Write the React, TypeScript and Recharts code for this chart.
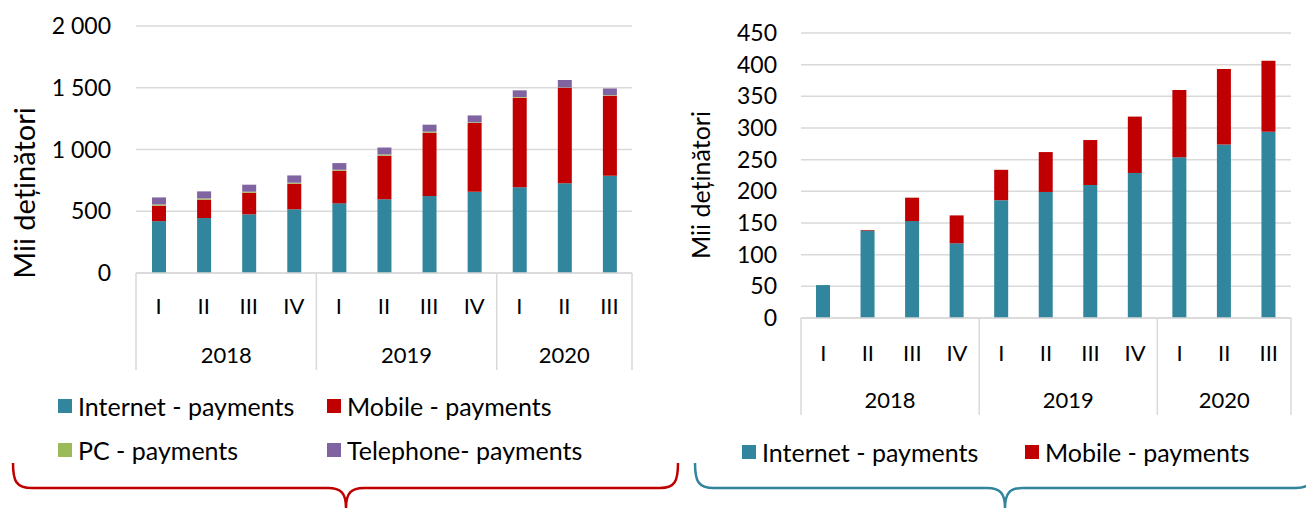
import React from 'react'
import { BarChart, Bar, XAxis, YAxis, CartesianGrid, Legend } from 'recharts'

// categories
const quarters = ['I', 'II', 'III', 'IV', 'I', 'II', 'III', 'IV', 'I', 'II', 'III']
const years = ['2018', '2018', '2018', '2018', '2019', '2019', '2019', '2019', '2020', '2020', '2020']

// left chart: all payment channels (mii deținători)
const internetAll = [420, 445, 475, 516, 564, 597, 623, 658, 694, 726, 788]
const mobileAll = [125, 149, 175, 207, 264, 353, 513, 557, 726, 774, 648]
const pcAll = [10, 10, 8, 8, 8, 10, 8, 5, 5, 3, 4]
const telephoneAll = [57, 57, 57, 59, 54, 56, 57, 56, 54, 60, 54]

// right chart
const internetRight = [52, 138, 153, 118, 186, 199, 210, 229, 254, 274, 294]
const mobileRight = [0, 1, 37, 44, 48, 63, 71, 89, 106, 119, 112]

const leftTicks = [0, 500, 1000, 1500, 2000]
const rightTicks = [0, 50, 100, 150, 200, 250, 300, 350, 400, 450]

const TEAL = '#31859C'
const RED = '#C00000'
const GREEN = '#9BBB59'
const PURPLE = '#8064A2'
const GRID = '#D9D9D9'
const FONT = 'Lato, "Open Sans", sans-serif'

const leftData = quarters.map((q, i) => ({
  q,
  year: years[i],
  internet: internetAll[i],
  mobile: mobileAll[i],
  pc: pcAll[i],
  telephone: telephoneAll[i],
}))

const rightData = quarters.map((q, i) => ({
  q,
  year: years[i],
  internet: internetRight[i],
  mobile: mobileRight[i],
}))

const leftSeries = [
  { key: 'internet', name: 'Internet - payments', color: TEAL },
  { key: 'mobile', name: 'Mobile - payments', color: RED },
  { key: 'pc', name: 'PC - payments', color: GREEN },
  { key: 'telephone', name: 'Telephone- payments', color: PURPLE },
]

const rightSeries = [
  { key: 'internet', name: 'Internet - payments', color: TEAL },
  { key: 'mobile', name: 'Mobile - payments', color: RED },
]

const fmtThousands = (v: number) =>
  v >= 1000 ? `${Math.floor(v / 1000)} ${String(v % 1000).padStart(3, '0')}` : String(v)

// two-level category axis: quarter row, year row and group separators
const makeTick = (bandWidth: number, qOff: number, yOff: number, lineLen: number) =>
  (props: any) => {
    const { x, y, payload } = props
    const i = payload.index
    const axisY = y - 8
    const year = years[i]
    const first = years.indexOf(year)
    const last = years.lastIndexOf(year)
    const groupMid = x + ((last - first) * bandWidth) / 2
    return (
      <g>
        <text x={x} y={axisY + qOff} textAnchor="middle" dominantBaseline="central"
          fontFamily={FONT} fontSize={22} fill="#000">{quarters[i]}</text>
        {i === first && (
          <>
            <line x1={x - bandWidth / 2} x2={x - bandWidth / 2} y1={axisY} y2={axisY + lineLen} stroke={GRID} strokeWidth={1.5} />
            <text x={groupMid} y={axisY + yOff} textAnchor="middle" dominantBaseline="central"
              fontFamily={FONT} fontSize={22} fill="#000">{year}</text>
          </>
        )}
        {i === quarters.length - 1 && (
          <line x1={x + bandWidth / 2} x2={x + bandWidth / 2} y1={axisY} y2={axisY + lineLen} stroke={GRID} strokeWidth={1.5} />
        )}
      </g>
    )
  }

const axisTitle = (cx: number, cy: number, size: number) => () => (
  <text x={cx} y={cy} transform={`rotate(-90 ${cx} ${cy})`} textAnchor="middle"
    dominantBaseline="central" fontFamily={FONT} fontSize={size} fill="#000">
    Mii deținători
  </text>
)

const LegendBox = ({ items, colWidth }: { items: typeof leftSeries; colWidth: number }) => (
  <div style={{ display: 'grid', gridTemplateColumns: `${colWidth}px ${colWidth}px`, rowGap: 18, fontFamily: FONT, fontSize: 25, color: '#000' }}>
    {items.map(s => (
      <div key={s.key} style={{ display: 'flex', alignItems: 'center', height: 26, whiteSpace: 'nowrap' }}>
        <span style={{ width: 14, height: 14, background: s.color, marginRight: 6, display: 'inline-block', flex: 'none' }} />
        {s.name}
      </div>
    ))}
  </div>
)

export default function App() {
  const leftBand = (632 - 136) / quarters.length
  const rightBand = (1291 - 801) / quarters.length
  return (
    <div style={{ position: 'absolute', left: 0, top: 0, width: 1306, height: 508, background: '#fff', overflow: 'hidden' }}>
      <div style={{ position: 'absolute', left: 0, top: 0 }}>
        <BarChart width={650} height={380} data={leftData} margin={{ top: 26, right: 18, left: 0, bottom: 10 }} barSize={14}>
          <CartesianGrid vertical={false} stroke={GRID} strokeWidth={1.5} />
          <XAxis dataKey="q" interval={0} height={97} tickLine={false} axisLine={{ stroke: GRID, strokeWidth: 1.5 }}
            tick={makeTick(leftBand, 32, 81, 97)} />
          <YAxis domain={[0, 2000]} ticks={leftTicks} width={136} axisLine={false} tickLine={false} tickMargin={19}
            tickFormatter={fmtThousands} tick={{ fontFamily: FONT, fontSize: 23, fill: '#000' }}
            label={axisTitle(23, 193, 29)} />
          <Legend layout="vertical" align="center" verticalAlign="middle"
            wrapperStyle={{ left: 58, top: 393, width: 600 }}
            content={() => <LegendBox items={leftSeries} colWidth={269} />} />
          {leftSeries.map(s => (
            <Bar key={s.key} dataKey={s.key} name={s.name} stackId="a" fill={s.color} isAnimationActive={false} />
          ))}
        </BarChart>
      </div>
      <div style={{ position: 'absolute', left: 680, top: 0 }}>
        <BarChart width={626} height={425} data={rightData} margin={{ top: 33, right: 15, left: 0, bottom: 10 }} barSize={14}>
          <CartesianGrid vertical={false} stroke={GRID} strokeWidth={1.5} />
          <XAxis dataKey="q" interval={0} height={97} tickLine={false} axisLine={{ stroke: GRID, strokeWidth: 1.5 }}
            tick={makeTick(rightBand, 34, 81, 97)} />
          <YAxis domain={[0, 450]} ticks={rightTicks} width={121} axisLine={false} tickLine={false} tickMargin={18}
            tick={{ fontFamily: FONT, fontSize: 23, fill: '#000' }}
            label={axisTitle(20, 185, 25)} />
          <Legend layout="vertical" align="center" verticalAlign="middle"
            wrapperStyle={{ left: 62, top: 439, width: 600 }}
            content={() => <LegendBox items={rightSeries} colWidth={283} />} />
          {rightSeries.map(s => (
            <Bar key={s.key} dataKey={s.key} name={s.name} stackId="a" fill={s.color} isAnimationActive={false} />
          ))}
        </BarChart>
      </div>
      <svg width={1306} height={508} style={{ position: 'absolute', left: 0, top: 0, pointerEvents: 'none' }}>
        <path d="M13,463 C13,481 16,488 32,488 L328,488 C341,488 346,493 346,508 C346,493 351,488 364,488 L660,488 C675,488 678,481 678,463"
          fill="none" stroke={RED} strokeWidth={2.5} />
        <path d="M695,463 C695,481 698,488 714,488 L987,488 C1000,488 1005,493 1005,508 C1005,493 1010,488 1023,488 L1296,488 C1311,488 1314,481 1314,463"
          fill="none" stroke={TEAL} strokeWidth={2.5} />
      </svg>
    </div>
  )
}
